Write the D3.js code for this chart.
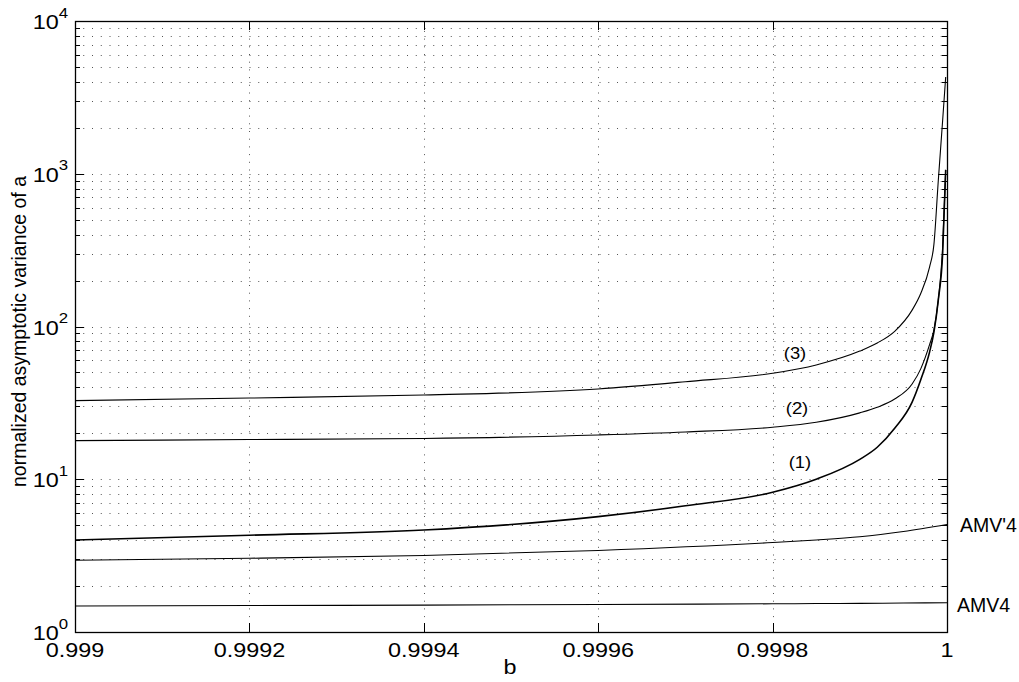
<!DOCTYPE html>
<html><head><meta charset="utf-8">
<script src="https://cdn.jsdelivr.net/npm/d3@7"></script>
<style>
html,body{margin:0;padding:0;background:#fff;}
text{font-family:"Liberation Sans",Arial,Helvetica,sans-serif;fill:#000;}
</style></head>
<body>
<svg id="chart" width="1019" height="682"></svg>
<script>
// ---- data ----
const bValues = [0.999, 0.9992, 0.9994, 0.9996, 0.9997, 0.9998, 0.99985, 0.9999, 0.99992, 0.99994, 0.99996, 0.99997, 0.99998, 0.999985, 0.99999, 0.999995, 0.9999985];
const curve3 = [32.7, 34.0, 35.6, 39.0, 43.5, 49.4, 56, 69, 78, 93, 128, 165, 245, 345, 900, 2230, 4300];
const curve2 = [17.9, 18.2, 18.5, 19.5, 20.4, 21.9, 23.6, 27.2, 29.6, 33.5, 42, 53, 76, 95, 149, 330, 1060];
const curve1 = [4.0, 4.3, 4.65, 5.69, 6.7, 8.22, 10.0, 13.5, 16.2, 21.6, 32, 45, 68, 92, 149, 300, 1060];
const amvB = [0.999, 0.9992, 0.9994, 0.9996, 0.9998, 0.99985, 0.9999, 0.99995, 1];
const amvPrime4 = [2.95, 3.04, 3.17, 3.42, 3.85, 4.0, 4.2, 4.55, 5.06];
const amv4 = [1.48, 1.49, 1.50, 1.515, 1.53, 1.535, 1.54, 1.548, 1.555];
const xTicks = [0.999, 0.9992, 0.9994, 0.9996, 0.9998, 1];
const xTickLabels = ["0.999", "0.9992", "0.9994", "0.9996", "0.9998", "1"];
const yExponents = [0, 1, 2, 3, 4];
const curveLabels = ["(3)", "(2)", "(1)"];
const curveLabelB = [0.9998257, 0.9998280, 0.9998314];
const curveLabelV = [67, 29.3, 13.0];
const xTitle = "b";
const yTitle = "normalized asymptotic variance of a";

// ---- layout ----
const L = 75, R = 947, T = 21, B = 632;
const svg = d3.select("#chart");
const x = d3.scaleLinear().domain([0.999, 1]).range([L, R]);
const y = d3.scaleLog().domain([1, 1e4]).range([B, T]);
const SX = 1.2; // horizontal stretch of the reference axis text

// grid
const yGrid = [];
yExponents.slice(0, -1).forEach(k => { for (let m = 1; m <= 9; m++) yGrid.push(m * Math.pow(10, k)); });
svg.append("g").selectAll("line").data(yGrid.filter(v => v > 1)).join("line")
  .attr("x1", L).attr("x2", R)
  .attr("y1", d => Math.round(y(d)) + 0.5).attr("y2", d => Math.round(y(d)) + 0.5)
  .attr("stroke", "#555").attr("stroke-width", 1)
  .attr("stroke-dasharray", "1 7.75").attr("stroke-dashoffset", 0.5);
svg.append("g").selectAll("line").data(xTicks.slice(1, -1)).join("line")
  .attr("x1", d => Math.round(x(d)) + 0.5).attr("x2", d => Math.round(x(d)) + 0.5)
  .attr("y1", B).attr("y2", T)
  .attr("stroke", "#555").attr("stroke-width", 1)
  .attr("stroke-dasharray", "1 6.7").attr("stroke-dashoffset", 0.5);

// curves
const line = d3.line().x(d => x(d[0])).y(d => y(d[1])).curve(d3.curveMonotoneX);
const series = [
  {b: bValues, v: curve3, w: 1.1},
  {b: bValues, v: curve2, w: 1.1},
  {b: bValues, v: curve1, w: 1.6},
  {b: amvB, v: amvPrime4, w: 1.1},
  {b: amvB, v: amv4, w: 1.1}
];
svg.append("g").selectAll("path").data(series).join("path")
  .attr("d", s => line(s.b.map((b, i) => [b, s.v[i]])))
  .attr("fill", "none").attr("stroke", "#000").attr("stroke-width", s => s.w);

// box
svg.append("rect").attr("x", L + 0.5).attr("y", T + 0.5).attr("width", R - L).attr("height", B - T)
  .attr("fill", "none").attr("stroke", "#000").attr("stroke-width", 1.3);

// ticks
const tg = svg.append("g").attr("stroke", "#000").attr("stroke-width", 1);
xTicks.forEach(t => {
  const px = Math.round(x(t)) + 0.5;
  tg.append("line").attr("x1", px).attr("x2", px).attr("y1", B).attr("y2", B - 9);
  tg.append("line").attr("x1", px).attr("x2", px).attr("y1", T).attr("y2", T + 9);
});
yGrid.concat([1e4]).forEach(v => {
  const py = Math.round(y(v)) + 0.5;
  const major = Math.abs(Math.log10(v) - Math.round(Math.log10(v))) < 1e-9;
  const len = major ? 9 : 5;
  tg.append("line").attr("x1", L).attr("x2", L + len).attr("y1", py).attr("y2", py);
  tg.append("line").attr("x1", R).attr("x2", R - len).attr("y1", py).attr("y2", py);
});

// x tick labels
xTicks.forEach((t, i) => {
  svg.append("text").attr("transform", `translate(${x(t)},657) scale(${SX},1)`)
    .attr("text-anchor", "middle").attr("font-size", 19.5).text(xTickLabels[i]);
});
// y tick labels
yExponents.forEach(k => {
  const tx = svg.append("text").attr("transform", `translate(68,${y(Math.pow(10, k)) + 8}) scale(${SX},1)`)
    .attr("text-anchor", "end").attr("font-size", 19.5);
  tx.append("tspan").text("10");
  tx.append("tspan").attr("dy", -11.5).attr("font-size", 14).text(String(k));
});

// axis titles
svg.append("text").attr("transform", `translate(510,674) scale(${SX},1)`)
  .attr("text-anchor", "middle").attr("font-size", 19.5).text(xTitle);
svg.append("text").attr("transform", `translate(26,${(T + B) / 2 + 5}) rotate(-90)`)
  .attr("text-anchor", "middle").attr("font-size", 19.5).text(yTitle);

// curve labels
curveLabels.forEach((lab, i) => {
  svg.append("text").attr("transform", `translate(${x(curveLabelB[i])},${y(curveLabelV[i]) + 6}) scale(1.08,1)`)
    .attr("text-anchor", "middle").attr("font-size", 17).text(lab);
});
svg.append("text").attr("x", x(1) + 13).attr("y", 532)
  .attr("font-size", 19.5).text("AMV'4");
svg.append("text").attr("x", x(1) + 10).attr("y", 612)
  .attr("font-size", 19.5).text("AMV4");
</script>
</body></html>
